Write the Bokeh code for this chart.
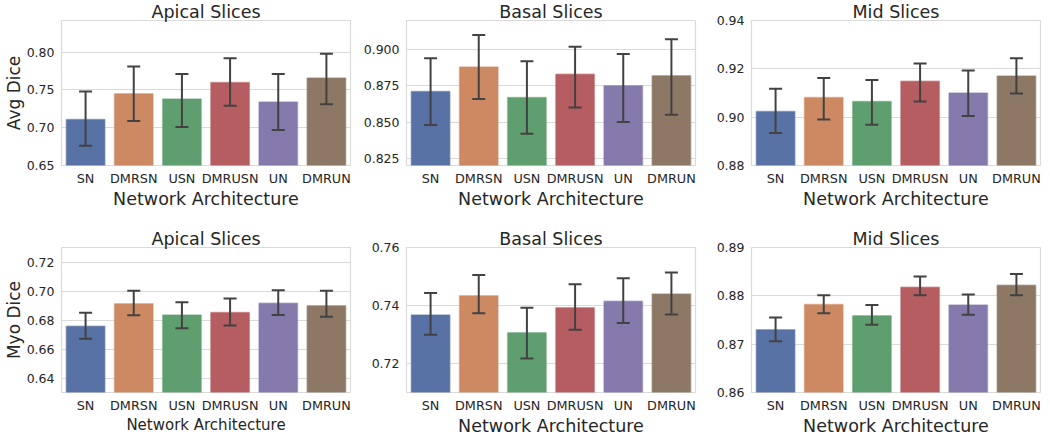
from bokeh.plotting import figure
from bokeh.models import ColumnDataSource, Range1d, FixedTicker, Whisker, TeeHead, NumeralTickFormatter
from bokeh.layouts import row, column
from bokeh.embed import file_html
from bokeh.resources import INLINE

categories = ["SN", "DMRSN", "USN", "DMRUSN", "UN", "DMRUN"]
colors = ["#5872a5", "#cd8a62", "#5f9e6e", "#b55d60", "#857aab", "#8d7866"]

avg_apical = [0.711, 0.745, 0.738, 0.760, 0.734, 0.766]
avg_apical_lo = [0.676, 0.709, 0.701, 0.729, 0.697, 0.731]
avg_apical_hi = [0.748, 0.781, 0.771, 0.792, 0.771, 0.798]

avg_basal = [0.871, 0.888, 0.867, 0.883, 0.875, 0.882]
avg_basal_lo = [0.848, 0.866, 0.842, 0.860, 0.850, 0.855]
avg_basal_hi = [0.894, 0.910, 0.892, 0.902, 0.897, 0.907]

avg_mid = [0.9023, 0.9081, 0.9065, 0.9149, 0.9100, 0.9170]
avg_mid_lo = [0.8934, 0.8990, 0.8969, 0.9065, 0.9005, 0.9098]
avg_mid_hi = [0.9118, 0.9162, 0.9154, 0.9222, 0.9193, 0.9244]

myo_apical = [0.6760, 0.6915, 0.6838, 0.6855, 0.6918, 0.6902]
myo_apical_lo = [0.6672, 0.6836, 0.6745, 0.6764, 0.6838, 0.6825]
myo_apical_hi = [0.6853, 0.7006, 0.6926, 0.6952, 0.7008, 0.7006]

myo_basal = [0.7367, 0.7434, 0.7306, 0.7392, 0.7415, 0.7440]
myo_basal_lo = [0.7299, 0.7373, 0.7217, 0.7316, 0.7340, 0.7369]
myo_basal_hi = [0.7443, 0.7505, 0.7392, 0.7473, 0.7494, 0.7514]

myo_mid = [0.8730, 0.8782, 0.8759, 0.8818, 0.8781, 0.8822]
myo_mid_lo = [0.8706, 0.8764, 0.8740, 0.8801, 0.8761, 0.8801]
myo_mid_hi = [0.8755, 0.8801, 0.8781, 0.8840, 0.8803, 0.8845]

FONT = "DejaVu Sans"
TXT = "#262626"
EDGE = "#dadada"
ERR = "#424242"
FW, FH = 289, 145


def panel(title, vals, lo, hi, yr, ticks, fmt, ylabel, bl, br, bt, bb, xlabel_size="17.5px"):
    p = figure(x_range=categories, y_range=Range1d(*yr), frame_width=FW, frame_height=FH,
               output_backend="svg", toolbar_location=None,
               min_border_left=bl, min_border_right=br, min_border_top=bt, min_border_bottom=bb)
    src = ColumnDataSource(dict(cat=categories, val=vals, lo=lo, hi=hi, color=colors))
    p.vbar(x="cat", top="val", bottom=0, width=0.8, source=src,
           fill_color="color", line_color="color", line_alpha=0.5, line_width=1.5)
    w = Whisker(source=src, base="cat", upper="hi", lower="lo", dimension="height",
                line_color=ERR, line_width=2, level="overlay",
                upper_head=TeeHead(size=13, line_color=ERR, line_width=2),
                lower_head=TeeHead(size=13, line_color=ERR, line_width=2))
    p.add_layout(w)
    p.title.text = title
    p.title.align = "center"
    p.title.text_font = FONT
    p.title.text_font_size = "17.5px"
    p.title.text_font_style = "normal"
    p.title.text_color = TXT
    p.title.standoff = -2
    p.outline_line_color = EDGE
    p.outline_line_width = 1.2
    p.xgrid.grid_line_color = None
    p.ygrid.grid_line_color = EDGE
    p.ygrid.grid_line_width = 1.2
    p.yaxis.ticker = FixedTicker(ticks=ticks)
    p.yaxis.formatter = NumeralTickFormatter(format=fmt)
    for ax in (p.xaxis[0], p.yaxis[0]):
        ax.axis_line_color = None
        ax.major_tick_line_color = None
        ax.minor_tick_line_color = None
        ax.major_tick_out = 0
        ax.major_tick_in = 0
        ax.minor_tick_out = 0
        ax.minor_tick_in = 0
        ax.major_label_text_font = FONT
        ax.major_label_text_color = TXT
        ax.axis_label_text_font = FONT
        ax.axis_label_text_color = TXT
        ax.axis_label_text_font_style = "normal"
    p.yaxis.major_label_text_font_size = "12.5px"
    p.xaxis.major_label_text_font_size = "12.8px"
    p.yaxis.major_label_standoff = 7
    p.xaxis.major_label_standoff = 5
    p.xaxis.axis_label = "Network Architecture"
    p.xaxis.axis_label_text_font_size = xlabel_size
    p.xaxis.axis_label_standoff = 0
    if ylabel:
        p.yaxis.axis_label = ylabel
        p.yaxis.axis_label_text_font_size = "17px"
        p.yaxis.axis_label_standoff = 0
    return p


p1 = panel("Apical Slices", avg_apical, avg_apical_lo, avg_apical_hi, (0.65, 0.842),
           [0.65, 0.70, 0.75, 0.80], "0.00", "Avg Dice", 54, 9, 18, 40)
p2 = panel("Basal Slices", avg_basal, avg_basal_lo, avg_basal_hi, (0.8201, 0.920),
           [0.825, 0.850, 0.875, 0.900], "0.000", None, 47, 9, 18, 40)
p3 = panel("Mid Slices", avg_mid, avg_mid_lo, avg_mid_hi, (0.88, 0.94),
           [0.88, 0.90, 0.92, 0.94], "0.00", None, 47, 1, 18, 40)
p4 = panel("Apical Slices", myo_apical, myo_apical_lo, myo_apical_hi, (0.63, 0.7305),
           [0.64, 0.66, 0.68, 0.70, 0.72], "0.00", "Myo Dice", 54, 9, 36, 40,
           xlabel_size="15px")
p5 = panel("Basal Slices", myo_basal, myo_basal_lo, myo_basal_hi, (0.71, 0.76),
           [0.72, 0.74, 0.76], "0.00", None, 47, 9, 36, 40)
p6 = panel("Mid Slices", myo_mid, myo_mid_lo, myo_mid_hi, (0.86, 0.89),
           [0.86, 0.87, 0.88, 0.89], "0.00", None, 47, 1, 36, 40)

layout = column(row(p1, p2, p3), row(p4, p5, p6))
open("out.html", "w").write(file_html(layout, INLINE))
